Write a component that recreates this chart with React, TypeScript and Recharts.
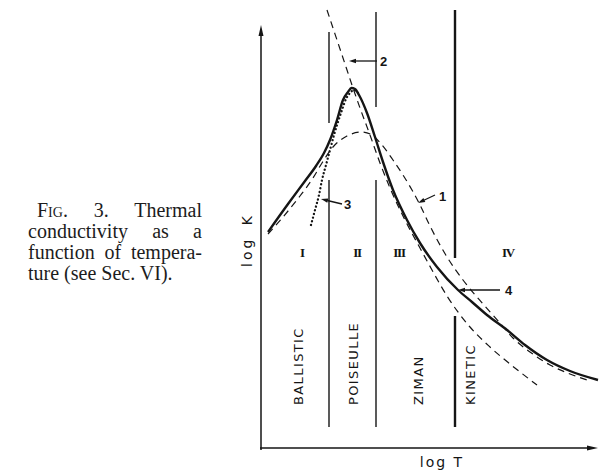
import React from 'react';
import { LineChart, Line, XAxis, YAxis, ReferenceLine, ReferenceDot } from 'recharts';

// readings, arbitrary log units (log T across, log K up)
const curve4LogT = [0.7, 2.7, 4.4, 5.5, 6.3, 6.9, 7.6, 8.2, 8.7, 9.05, 9.4, 9.8, 10.6, 11.4, 12.2, 13.2, 14.6, 15.9, 17.6, 19.7, 21.1, 22.6, 24.6, 26.4, 28.6, 30.9, 33.7];
const curve4LogK = [21.6, 24.4, 26.7, 28.2, 29.5, 30.8, 32.8, 34.8, 35.6, 36.0, 35.9, 35.3, 33.5, 31.1, 28.6, 25.8, 22.8, 20.5, 18.1, 15.8, 14.6, 13.3, 11.8, 10.3, 8.8, 7.7, 6.8];

const curve1LogT = [0.7, 2.2, 3.9, 5.2, 6.1, 7.2, 8.6, 10.1, 11.1, 12.1, 13.2, 14.2, 15.1, 15.9, 16.9, 18.6, 20.2, 22.2, 23.9, 25.2, 26.9, 28.9, 30.9, 32.6];
const curve1LogK = [21.4, 23.1, 25.2, 27.0, 28.5, 30.1, 31.2, 31.6, 31.3, 30.3, 28.8, 27.3, 25.8, 24.3, 22.2, 19.1, 16.8, 14.4, 12.5, 11.0, 9.6, 8.3, 7.4, 6.8];

const curve2LogT = [6.6, 7.6, 8.6, 9.2, 9.9, 10.9, 11.9, 12.9, 14.4, 15.9, 17.1, 18.6, 20.9, 22.9, 24.9, 27.6];
const curve2LogK = [43.8, 40.8, 37.8, 36.0, 34.0, 31.3, 28.5, 26.0, 22.8, 20.0, 17.8, 15.2, 12.1, 10.1, 8.4, 6.3];

const curve3LogT = [5.0, 5.4, 5.8, 6.1, 6.5, 6.9, 7.3, 7.7, 8.1, 8.5, 8.9, 9.3, 9.7];
const curve3LogK = [22.3, 23.8, 25.3, 26.8, 28.3, 29.8, 31.3, 32.6, 33.8, 34.9, 35.5, 35.8, 35.5];

const regionBounds = [6.8, 11.5, 19.4];
const regionNumerals = ['I', 'II', 'III', 'IV'];
const regionNames = ['BALLISTIC', 'POISEULLE', 'ZIMAN', 'KINETIC'];
const curveLabels = ['1', '2', '3', '4'];

const zip = (xs: number[], ys: number[]) => xs.map((x, i) => ({ x, y: ys[i] }));

const INK = '#151515';
const SANS = '"DejaVu Sans", sans-serif';

// where things sit on the plot (data units)
const boundarySegments = [
  [[41.6, 32.5], [26.8, 2.1]],
  [[43.6, 34.1], [26.8, 2.1]],
  [[43.8, 19.0], [13.2, 2.1]],
];
const boundaryWidths = [1.4, 1.4, 2.4];
const numeralX = [4.1, 9.6, 13.8, 24.7];
const nameX = [3.7, 9.2, 15.7, 20.9];
const pointers = [
  { tail: { x: 17.4, y: 25.3 }, tip: { x: 15.7, y: 24.5 }, label: { x: 17.8, y: 25.2 } },
  { tail: { x: 11.6, y: 38.7 }, tip: { x: 8.8, y: 38.7 }, label: { x: 11.9, y: 38.7 } },
  { tail: { x: 8.1, y: 24.4 }, tip: { x: 6.0, y: 24.9 }, label: { x: 8.3, y: 24.4 } },
  { tail: { x: 23.9, y: 15.8 }, tip: { x: 19.7, y: 15.8 }, label: { x: 24.4, y: 15.8 } },
];

const arrow = (len: number, wide: number, sw: number) => (p: any) => {
  const { x1, y1, x2, y2 } = p;
  if (x1 == null || x2 == null) return <g />;
  const a = Math.atan2(y2 - y1, x2 - x1);
  const bx = x2 - len * Math.cos(a);
  const by = y2 - len * Math.sin(a);
  const nx = (-Math.sin(a) * wide) / 2;
  const ny = (Math.cos(a) * wide) / 2;
  return (
    <g>
      <line x1={x1} y1={y1} x2={bx + 0.5 * Math.cos(a)} y2={by + 0.5 * Math.sin(a)} stroke={INK} strokeWidth={sw} />
      <polygon points={`${x2},${y2} ${bx + nx},${by + ny} ${bx - nx},${by - ny}`} fill={INK} />
    </g>
  );
};

const label = (text: string, style: React.SVGProps<SVGTextElement>, rotate = false) => (p: any) => (
  <text
    x={p.cx}
    y={p.cy}
    fill={INK}
    transform={rotate ? `rotate(-90 ${p.cx} ${p.cy})` : undefined}
    {...style}
  >
    {text}
  </text>
);

const justify: React.CSSProperties = { textAlign: 'justify', textAlignLast: 'justify' };

export default function App() {
  const curves = [
    { data: zip(curve4LogT, curve4LogK), width: 2.4, dash: undefined, cap: 'butt' },
    { data: zip(curve1LogT, curve1LogK), width: 1.2, dash: '7 5', cap: 'butt' },
    { data: zip(curve2LogT, curve2LogK), width: 1.2, dash: '7 5', cap: 'butt' },
    { data: zip(curve3LogT, curve3LogK), width: 2.3, dash: '0.1 3.7', cap: 'round' },
  ];

  return (
    <div style={{ position: 'relative', width: 604, height: 474, background: '#fff' }}>
      <style>{'body{margin:0}'}</style>
      <div
        style={{
          position: 'absolute',
          left: 28,
          top: 200,
          width: 174,
          fontFamily: '"Liberation Serif", serif',
          fontSize: 20,
          lineHeight: '21px',
          color: '#1c1c1c',
        }}
      >
        <div style={{ ...justify, paddingLeft: 9 }}>
          <span style={{ fontVariant: 'small-caps' }}>Fig.</span> 3. Thermal
        </div>
        <div style={justify}>conductivity as a</div>
        <div style={justify}>function of tempera-</div>
        <div>ture (see Sec. VI).</div>
      </div>

      <div style={{ position: 'absolute', left: 0, top: 0 }}>
        <LineChart width={604} height={474} margin={{ top: 8, right: 3, left: 261, bottom: 26 }}>
          <XAxis type="number" dataKey="x" domain={[0, 34]} allowDataOverflow hide />
          <YAxis type="number" dataKey="y" domain={[0, 44]} allowDataOverflow hide />

          {/* axes with arrowheads */}
          <ReferenceLine
            segment={[{ x: 0, y: -0.2 }, { x: 0, y: 42.3 }]}
            ifOverflow="visible"
            shape={arrow(11, 5, 1.5)}
          />
          <ReferenceLine
            segment={[{ x: -0.1, y: 0 }, { x: 33.7, y: 0 }]}
            ifOverflow="visible"
            shape={arrow(11, 5, 1.5)}
          />

          {boundarySegments.map((segs, i) =>
            segs.map(([top, bottom], j) => (
              <ReferenceLine
                key={`b${i}-${j}`}
                segment={[{ x: regionBounds[i], y: top }, { x: regionBounds[i], y: bottom }]}
                stroke={INK}
                strokeWidth={boundaryWidths[i]}
                ifOverflow="visible"
              />
            ))
          )}

          {curves.map((c, i) => (
            <Line
              key={`c${i}`}
              data={c.data}
              dataKey="y"
              type="monotone"
              stroke={INK}
              strokeWidth={c.width}
              strokeDasharray={c.dash}
              strokeLinecap={c.cap as any}
              dot={false}
              activeDot={false}
              isAnimationActive={false}
            />
          ))}

          {pointers.map((pt, i) => (
            <ReferenceLine
              key={`p${i}`}
              segment={[pt.tail, pt.tip]}
              ifOverflow="visible"
              shape={arrow(7, 4.5, 1.3)}
            />
          ))}
          {pointers.map((pt, i) => (
            <ReferenceDot
              key={`pl${i}`}
              x={pt.label.x}
              y={pt.label.y}
              r={0}
              ifOverflow="visible"
              shape={label(curveLabels[i], {
                fontFamily: '"Liberation Sans", sans-serif',
                fontWeight: 700,
                fontSize: 13,
                dominantBaseline: 'central',
              })}
            />
          ))}

          {regionNumerals.map((n, i) => (
            <ReferenceDot
              key={`n${i}`}
              x={numeralX[i]}
              y={19.6}
              r={0}
              ifOverflow="visible"
              shape={label(n, {
                fontFamily: '"Liberation Serif", serif',
                fontWeight: 700,
                fontSize: 13,
                letterSpacing: -1.2,
                textAnchor: 'middle',
                dominantBaseline: 'central',
              })}
            />
          ))}
          {regionNames.map((n, i) => (
            <ReferenceDot
              key={`r${i}`}
              x={nameX[i]}
              y={4.3}
              r={0}
              ifOverflow="visible"
              shape={label(
                n,
                { fontFamily: SANS, fontSize: 13, letterSpacing: 1.4, dominantBaseline: 'central' },
                true
              )}
            />
          ))}

          <ReferenceDot
            x={-1.4}
            y={20.8}
            r={0}
            ifOverflow="visible"
            shape={label(
              'log K',
              {
                fontFamily: SANS,
                fontSize: 14,
                letterSpacing: 3,
                wordSpacing: 4,
                textAnchor: 'middle',
                dominantBaseline: 'central',
              },
              true
            )}
          />
          <ReferenceDot
            x={18.1}
            y={-1.9}
            r={0}
            ifOverflow="visible"
            shape={label('log T', { fontFamily: SANS, fontSize: 14, letterSpacing: 2, textAnchor: 'middle' })}
          />
        </LineChart>
      </div>
    </div>
  );
}
